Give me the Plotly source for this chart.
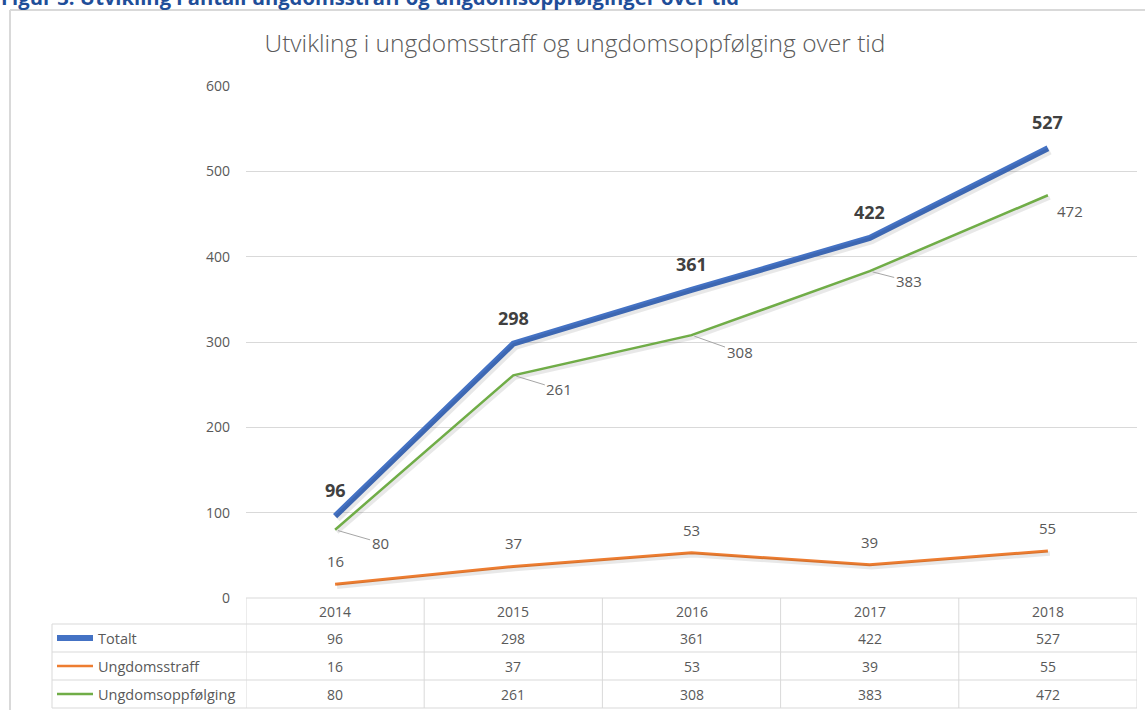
import plotly.graph_objects as go

years = ["2014", "2015", "2016", "2017", "2018"]
totalt = [96, 298, 361, 422, 527]
straff = [16, 37, 53, 39, 55]
oppf = [80, 261, 308, 383, 472]
series_names = ["Totalt", "Ungdomsstraff", "Ungdomsoppfølging"]
y_ticks = [0, 100, 200, 300, 400, 500, 600]

W, H = 1145, 710
ML, MR, MT, MB = 246, 8, 86, 112
PW = W - ML - MR
PH = H - MT - MB

def px(xp):
    return (xp - ML) / PW

def py(yp):
    return (H - MB - yp) / PH

BLUE = "#4472C4"
ORANGE = "#ED7D31"
GREEN = "#70AD47"
TXT = "#595959"
GRID = "#d9d9d9"
FONT = "Open Sans"

fig = go.Figure()
series = [(totalt, BLUE, 6), (straff, ORANGE, 3), (oppf, GREEN, 2.5)]

# shadows
for vals, col, w in series:
    fig.add_trace(go.Scatter(x=years, y=vals, mode="lines", xaxis="x2", yaxis="y2",
                             line=dict(color="rgba(0,0,0,0.09)", width=w + 1.5),
                             hoverinfo="skip", showlegend=False))
# main lines
for (vals, col, w), name in zip(series, series_names):
    fig.add_trace(go.Scatter(x=years, y=vals, mode="lines", xaxis="x", yaxis="y3", name=name,
                             line=dict(color=col, width=w), showlegend=False))

shift = 2.5 * 600 / PH
fig.update_layout(
    width=W, height=H,
    margin=dict(l=ML, r=MR, t=MT, b=MB),
    paper_bgcolor="white", plot_bgcolor="white",
    font=dict(family=FONT, color=TXT),
    xaxis=dict(type="category", range=[-0.5, 4.5], showticklabels=False, showgrid=False,
               zeroline=False, showline=False, ticks=""),
    xaxis2=dict(type="category", overlaying="x", range=[-0.5 - 2 / 178, 4.5 - 2 / 178],
                visible=False),
    yaxis=dict(range=[0, 600], tickvals=y_ticks, showgrid=True, gridcolor=GRID, gridwidth=1,
               zeroline=False, showline=False, ticks="", ticklabelstandoff=15,
               tickfont=dict(size=14, color=TXT, family=FONT)),
    yaxis2=dict(overlaying="y", range=[shift, 600 + shift], visible=False),
    yaxis3=dict(overlaying="y", range=[0, 600], visible=False),
    title=dict(text="Utvikling i ungdomsstraff og ungdomsoppfølging over tid",
               xref="paper", x=px(575), xanchor="center",
               yref="container", y=1 - 43 / H, yanchor="middle",
               font=dict(size=24.5, color=TXT, family=FONT, weight=300)),
)

ann = []
# caption (cut off at top)
ann.append(dict(text="<b>Figur 3: Utvikling i antall ungdomsstraff og ungdomsoppfølginger over tid</b>",
                xref="paper", yref="paper", x=px(-1), y=py(-3), xanchor="left", yanchor="middle",
                showarrow=False, font=dict(size=20.2, color="#1F4E99", family=FONT)))

# data labels (x given as category index)
for i, v in enumerate(totalt):
    ann.append(dict(text=f"<b>{v}</b>", x=i, y=v, xref="x", yref="y", showarrow=False,
                    xanchor="center", yanchor="middle",
                    yshift=26, font=dict(size=18, color="#404040", family=FONT)))
for i, v in enumerate(straff):
    ann.append(dict(text=str(v), x=i, y=v, xref="x", yref="y", showarrow=False,
                    xanchor="center", yanchor="middle",
                    yshift=23, font=dict(size=15, color=TXT, family=FONT)))
green_off = [(45, 13), (46, 14), (48, 17), (39, 10)]
for i, v in enumerate(oppf):
    if i < 4:
        ax, ay = green_off[i]
        ann.append(dict(text=str(v), x=i, y=v, xref="x", yref="y", showarrow=True,
                        ax=ax, ay=ay, arrowhead=0, arrowwidth=1, arrowcolor="#a6a6a6",
                        standoff=3, font=dict(size=15, color=TXT, family=FONT)))
    else:
        ann.append(dict(text=str(v), x=i, y=v, xref="x", yref="y", showarrow=False,
                        xanchor="center", yanchor="middle",
                        xshift=22, yshift=-16, font=dict(size=15, color=TXT, family=FONT)))

# table header
row_c = [611, 638, 666, 694]
for i, yr in enumerate(years):
    ann.append(dict(text=yr, x=i, y=py(row_c[0]), xref="x", yref="paper", showarrow=False,
                    xanchor="center", yanchor="middle",
                    font=dict(size=14, color=TXT, family=FONT)))
for r, vals in enumerate([totalt, straff, oppf]):
    for i, v in enumerate(vals):
        ann.append(dict(text=str(v), x=i, y=py(row_c[r + 1]), xref="x", yref="paper",
                        showarrow=False, xanchor="center", yanchor="middle",
                        font=dict(size=14, color=TXT, family=FONT)))
    ann.append(dict(text=series_names[r], x=px(96), y=py(row_c[r + 1]), xref="paper", yref="paper",
                    xanchor="left", yanchor="middle", showarrow=False,
                    font=dict(size=14.5, color=TXT, family=FONT)))

shapes = []
TL = dict(color=GRID, width=1)
# horizontal table lines
shapes.append(dict(type="line", xref="paper", yref="paper", x0=0, x1=1, y0=py(598), y1=py(598), line=TL))
for yp in [624, 652, 680, 708]:
    shapes.append(dict(type="line", xref="paper", yref="paper", x0=px(52), x1=1, y0=py(yp), y1=py(yp), line=TL))
# vertical table lines at category boundaries
for k in range(len(years) + 1):
    shapes.append(dict(type="line", xref="x", yref="paper", x0=k - 0.5, x1=k - 0.5,
                       y0=py(598), y1=py(708), line=TL))
shapes.append(dict(type="line", xref="paper", yref="paper", x0=px(52), x1=px(52),
                   y0=py(624), y1=py(708), line=TL))
# legend keys
for r, (vals, col, w) in enumerate(series):
    shapes.append(dict(type="line", xref="paper", yref="paper", x0=px(57), x1=px(93),
                       y0=py(row_c[r + 1]), y1=py(row_c[r + 1]),
                       line=dict(color=col, width=w if r == 0 else 2.5)))
# outer frame
FR = dict(color="#d9d9d9", width=2)
shapes.append(dict(type="line", xref="paper", yref="paper", x0=px(10), x1=px(1150),
                   y0=py(10), y1=py(10), line=FR))
shapes.append(dict(type="line", xref="paper", yref="paper", x0=px(10), x1=px(10),
                   y0=py(10), y1=py(715), line=FR))

fig.update_layout(annotations=ann, shapes=shapes)
fig.write_html("out.html", config={"displayModeBar": False},
               post_script="document.body.style.margin='0';document.body.style.overflow='hidden';")
